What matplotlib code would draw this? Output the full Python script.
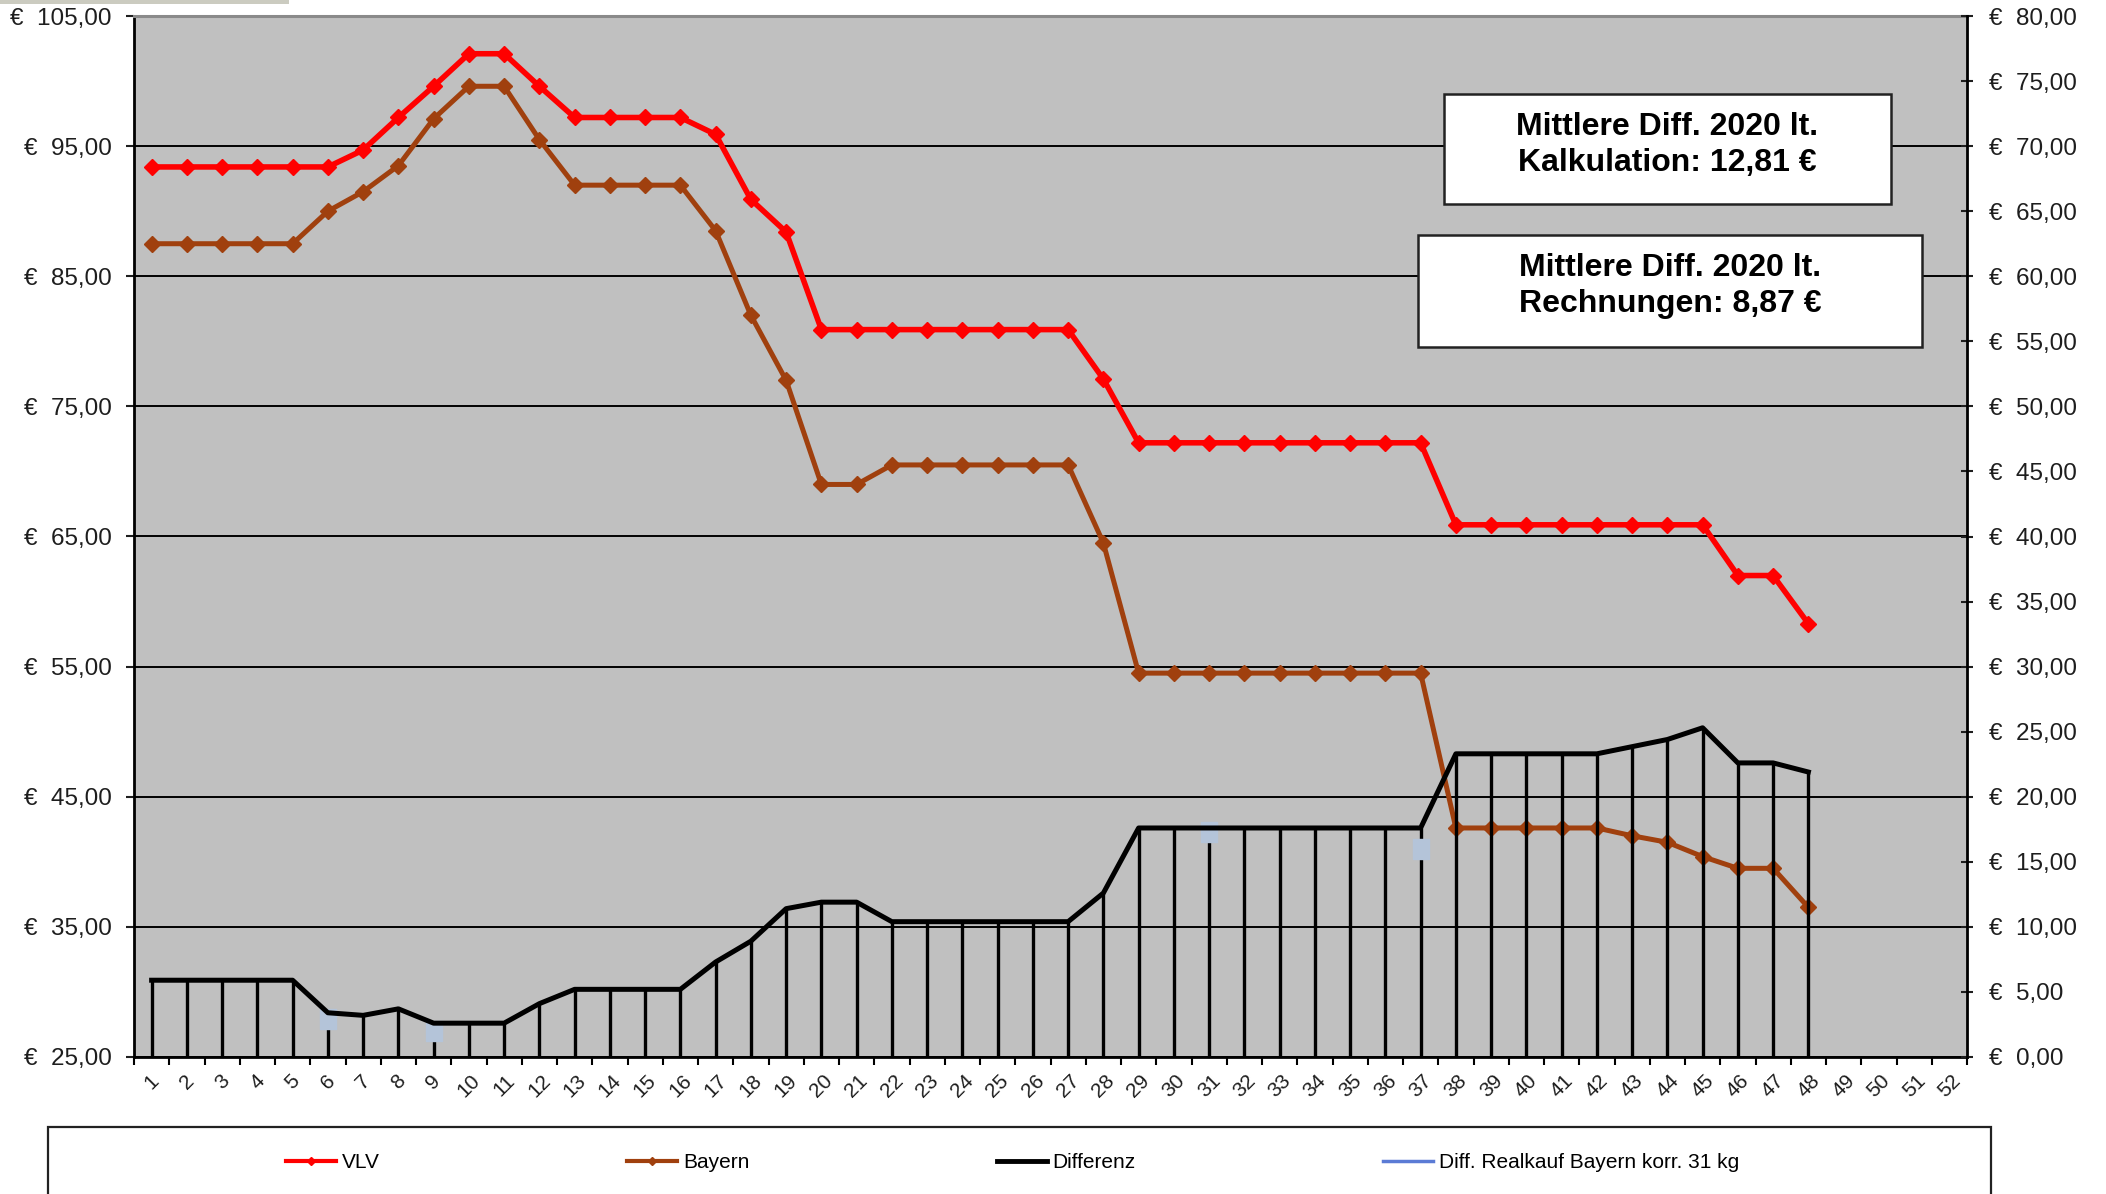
import numpy as np
import matplotlib
matplotlib.use("Agg")
import matplotlib.pyplot as plt
from matplotlib.lines import Line2D
from matplotlib.patches import Rectangle
from matplotlib.ticker import FixedLocator, FuncFormatter

plt.rcParams['font.family'] = ['Liberation Sans', 'DejaVu Sans']

# ---------------- data ----------------
week_labels = [str(w) for w in range(1, 53)]
weeks = list(range(1, 49))

vlv = [93.4, 93.4, 93.4, 93.4, 93.4, 93.4, 94.7, 97.2, 99.6, 102.1,
       102.1, 99.6, 97.2, 97.2, 97.2, 97.2, 95.9, 90.9, 88.4, 80.9,
       80.9, 80.9, 80.9, 80.9, 80.9, 80.9, 80.9, 77.1, 72.2, 72.2,
       72.2, 72.2, 72.2, 72.2, 72.2, 72.2, 72.2, 65.9, 65.9, 65.9,
       65.9, 65.9, 65.9, 65.9, 65.9, 62.0, 62.0, 58.3]

bayern = [87.5, 87.5, 87.5, 87.5, 87.5, 90.0, 91.5, 93.5, 97.1, 99.6,
          99.6, 95.5, 92.0, 92.0, 92.0, 92.0, 88.5, 82.0, 77.0, 69.0,
          69.0, 70.5, 70.5, 70.5, 70.5, 70.5, 70.5, 64.5, 54.5, 54.5,
          54.5, 54.5, 54.5, 54.5, 54.5, 54.5, 54.5, 42.6, 42.6, 42.6,
          42.6, 42.6, 42.0, 41.5, 40.4, 39.5, 39.5, 36.5]

differenz = [5.9, 5.9, 5.9, 5.9, 5.9, 3.4, 3.2, 3.7, 2.6, 2.6,
             2.6, 4.1, 5.2, 5.2, 5.2, 5.2, 7.3, 8.9, 11.4, 11.9,
             11.9, 10.4, 10.4, 10.4, 10.4, 10.4, 10.4, 12.6, 17.6, 17.6,
             17.6, 17.6, 17.6, 17.6, 17.6, 17.6, 17.6, 23.3, 23.3, 23.3,
             23.3, 23.3, 23.85, 24.4, 25.3, 22.6, 22.6, 21.9]

realkauf_weeks = [6, 9, 31, 37]
realkauf_diff = [2.9, 2.0, 17.3, 16.0]

left_ticks = [25, 35, 45, 55, 65, 75, 85, 95, 105]
right_ticks = [0, 5, 10, 15, 20, 25, 30, 35, 40, 45, 50, 55, 60, 65, 70, 75, 80]

box1_text = "Mittlere Diff. 2020 lt.\nKalkulation: 12,81 €"
box2_text = "Mittlere Diff. 2020 lt.\nRechnungen: 8,87 €"
legend_labels = ["VLV", "Bayern", "Differenz", "Diff. Realkauf Bayern korr. 31 kg"]

# ---------------- styling ----------------
W, H = 2106, 1194
def fx(px):
    return px / W
def fy(py):
    return 1 - py / H

RED = '#ff0000'
BROWN = '#a0400e'
LIGHTBLUE = '#b4c4d9'
LEGBLUE = '#5b7bd5'
TXT = '#1e1e1e'

fig = plt.figure(figsize=(W / 100, H / 100), dpi=100)
fig.patch.set_facecolor('white')

L, R, T, B = 134, 1967, 16, 1057
ax1 = fig.add_axes([fx(L), fy(B), (R - L) / W, (B - T) / H])
ax1.set_facecolor('#c0c0c0')
ax2 = ax1.twinx()

def euro(v, pos=None):
    return "€  " + f"{v:.2f}".replace('.', ',')

# left axis
ax1.set_xlim(0.5, 52.5)
ax1.set_ylim(25, 105)
ax1.yaxis.set_major_locator(FixedLocator(left_ticks))
ax1.yaxis.set_major_formatter(FuncFormatter(euro))
ax1.set_axisbelow(True)
ax1.grid(axis='y', color='black', lw=1.4)
ax1.grid(axis='x', visible=False)
ax1.tick_params(axis='y', direction='out', length=6, width=1.5, labelsize=17.5,
                pad=10, colors=TXT)

# x axis
ax1.xaxis.set_major_locator(FixedLocator(list(range(1, 53))))
ax1.set_xticklabels(week_labels, rotation=45, ha='center', va='top')
ax1.xaxis.set_minor_locator(FixedLocator(list(np.arange(0.5, 53, 1.0))))
ax1.tick_params(axis='x', which='major', length=0, labelsize=15, pad=10,
                colors=TXT)
ax1.tick_params(axis='x', which='minor', direction='out', length=6, width=1.5,
                color='black')

# right axis
ax2.set_ylim(0, 80)
ax2.yaxis.set_major_locator(FixedLocator(right_ticks))
ax2.yaxis.set_major_formatter(FuncFormatter(euro))
ax2.tick_params(axis='y', direction='inout', length=9, width=1.5, labelsize=17.5,
                pad=11, colors=TXT)
for lab in ax2.get_yticklabels():
    lab.set_ha('left')

# spines
for s in ['left', 'bottom']:
    ax1.spines[s].set_color('black')
    ax1.spines[s].set_linewidth(2)
ax1.spines['right'].set_visible(False)
ax1.spines['top'].set_color('#8a8a8a')
ax1.spines['top'].set_linewidth(2.2)
for s in ['left', 'bottom', 'top']:
    ax2.spines[s].set_visible(False)
ax2.spines['right'].set_color('black')
ax2.spines['right'].set_linewidth(2)

# series on left axis
ax1.plot(weeks, bayern, color=BROWN, lw=3.6, marker='D', ms=8.5, mfc=BROWN,
         mec=BROWN, mew=1, zorder=3)
ax1.plot(weeks, vlv, color=RED, lw=4.0, marker='D', ms=8.5, mfc=RED,
         mec=RED, mew=1, zorder=4)

# series on right axis (drawn above)
ax2.vlines(weeks, 0, differenz, color='black', lw=2.4, zorder=2)
blob = [(-0.4, -0.5), (0.4, -0.5), (0.4, 0.5), (-0.4, 0.5), (-0.4, -0.5)]
ax2.plot(realkauf_weeks, realkauf_diff, ls='none', marker=blob, ms=15,
         mfc=LIGHTBLUE, mec=LIGHTBLUE, zorder=3)
ax2.plot(weeks, differenz, color='black', lw=3.6, zorder=4,
         solid_joinstyle='round')

# ---------------- annotation boxes ----------------
def box(x0, y0, x1, y1, text, cx, cy):
    fig.patches.append(Rectangle((fx(x0), fy(y1)), (x1 - x0) / W, (y1 - y0) / H,
                                 transform=fig.transFigure, facecolor='white',
                                 edgecolor='#222222', lw=1.8, zorder=10))
    fig.text(fx(cx), fy(cy), text, ha='center', va='center', fontsize=23,
             fontweight='bold', color='black', linespacing=1.22, zorder=11)

box(1444, 94, 1891, 204, box1_text, 1667.5, 145)
box(1418, 235, 1922, 347, box2_text, 1670, 286)

# top-left artifact strip
fig.patches.append(Rectangle((0, fy(4)), fx(289), 4 / H, transform=fig.transFigure,
                             facecolor='#cbcbc0', edgecolor='none'))

# ---------------- legend ----------------
fig.patches.append(Rectangle((fx(48), fy(1240)), (1991 - 48) / W, (1240 - 1127) / H,
                             transform=fig.transFigure, facecolor='white',
                             edgecolor='#222222', lw=1.6, zorder=1))
handles = [
    Line2D([], [], color=RED, lw=3, marker='D', ms=4, mfc=RED, mec=RED),
    Line2D([], [], color=BROWN, lw=3, marker='D', ms=4, mfc=BROWN, mec=BROWN),
    Line2D([], [], color='black', lw=3.5),
    Line2D([], [], color=LEGBLUE, lw=2.5),
]
fig.legend(handles, legend_labels, loc='center left',
           bbox_to_anchor=(fx(286), fy(1163)), ncol=4, frameon=False,
           fontsize=15, handlelength=2.4, handletextpad=0.3,
           columnspacing=11.85, borderpad=0, borderaxespad=0)

fig.savefig('out.png', dpi=100, facecolor='white')
